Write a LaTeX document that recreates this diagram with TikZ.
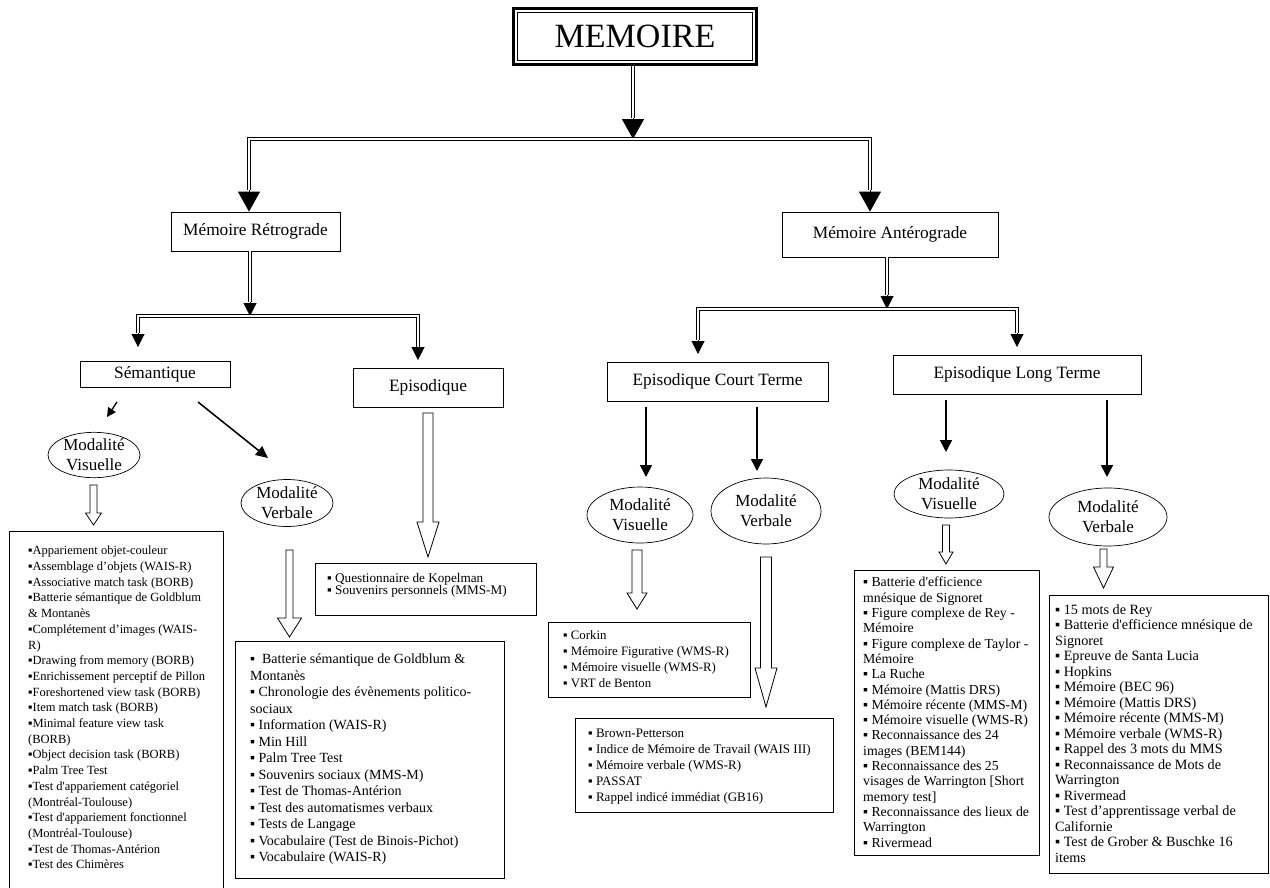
\documentclass[tikz,border=0pt]{standalone}
\usepackage{fontspec}
\setmainfont{Liberation Serif}
\usetikzlibrary{arrows.meta,shapes.geometric,calc}
\newcommand\myblockarrow[6]{\draw[line width=0.8pt,fill=white] ({#1-#5},#2) -- ({#1+#5},#2) -- ({#1+#5},#3) -- ({#1+#6},#3) -- (#1,#4) -- ({#1-#6},#3) -- ({#1-#5},#3) -- cycle;}
\begin{document}
\begin{tikzpicture}[x=1pt,y=-1pt,
  titlebox/.style={draw, line width=0.8pt, inner sep=0pt, font=\fontsize{17.3}{20}\selectfont},
  ell/.style={draw, ellipse, line width=0.7pt, inner sep=0pt, align=center, font=\fontsize{17}{20}\selectfont},
  listbox/.style={draw, line width=0.8pt, inner sep=0pt, anchor=north west},
  lst/.style={anchor=north west, inner sep=0pt, align=left},
  dbl/.style={double, double distance=1.8pt, line width=1.1pt},
  dbls/.style={double, double distance=1.4pt, line width=0.9pt},
  bighead/.style={-{Triangle[length=20pt,width=22pt]}, line width=1pt},
  smhead/.style={-{Triangle[length=13pt,width=13pt]}, line width=1pt},
  sarr/.style={-{Triangle[length=12pt,width=12pt]}, line width=1.5pt}
]
\useasboundingbox[fill=white] (0,0) rectangle (1270,887);

% ---- title
\node[draw, line width=2.5pt, minimum width=243, minimum height=56, inner sep=0pt,
      font=\fontsize{34}{40}\selectfont] (mem) at (635,36.5) {MEMOIRE};
\draw[line width=0.8pt] ([shift={(5,5)}]mem.north west) rectangle ([shift={(-5,-5)}]mem.south east);

% ---- level boxes
\node[titlebox, minimum width=169, minimum height=39] (retro) at (255.5,231.5) {Mémoire Rétrograde};
\node[titlebox, minimum width=216, minimum height=45] (ante) at (890,234.5) {Mémoire Antérograde};
\node[titlebox, minimum width=150, minimum height=26] (sem) at (155,374) {Sémantique};
\node[titlebox, minimum width=150, minimum height=39] (epi) at (428,387.5) {Episodique};
\node[titlebox, minimum width=221, minimum height=39] (ct) at (717.5,381.5) {Episodique Court Terme};
\node[titlebox, minimum width=248, minimum height=39] (lt) at (1017,374.5) {Episodique Long Terme};

% ---- ellipses
\node[ell, minimum width=92, minimum height=45] (semvis) at (94,455) {Modalité\\Visuelle};
\node[ell, minimum width=92, minimum height=47] (semverb) at (287,503) {Modalité\\Verbale};
\node[ell, minimum width=106, minimum height=56] (ctvis) at (640,515) {Modalité\\Visuelle};
\node[ell, minimum width=110, minimum height=66] (ctverb) at (766,511) {Modalité\\Verbale};
\node[ell, minimum width=110, minimum height=48] (ltvis) at (949,494) {Modalité\\Visuelle};
\node[ell, minimum width=118, minimum height=58] (ltverb) at (1108,517) {Modalité\\Verbale};

% ---- connectors: top level
\coordinate (c0) at (633,118);
\coordinate (hL) at (249,139);
\coordinate (hR) at (870,139);
\coordinate (tL) at (249,190);
\coordinate (tR) at (870,190);
\draw[dbl] (c0 |- mem.south) -- (c0);
\draw[bighead] (c0) -- (c0 |- hL);
\draw[dbl] (tL) -- (hL) -- (hR) -- (tR);
\draw[bighead] (tL) -- (tL |- retro.north);
\draw[bighead] (tR) -- (tR |- ante.north);

% ---- Retrograde branch
\coordinate (r1) at (250,302);
\coordinate (sL) at (138,316);
\coordinate (sR) at (418,316);
\coordinate (sLb) at (138,333);
\coordinate (sRb) at (418,347);
\coordinate (sLt) at (138,347);
\coordinate (sRt) at (418,360);
\draw[dbls] (r1 |- retro.south) -- (r1);
\draw[smhead] (r1) -- (r1 |- sL);
\draw[dbls] (sLb) -- (sL) -- (sR) -- (sRb);
\draw[smhead] (sLb) -- (sLt);
\draw[smhead] (sRb) -- (sRt);

% ---- Anterograde branch
\coordinate (a1) at (887,295);
\coordinate (aL) at (698,309);
\coordinate (aR) at (1017,309);
\coordinate (aLb) at (698,340);
\coordinate (aLt) at (698,354);
\coordinate (aRb) at (1017,333);
\coordinate (aRt) at (1017,347);
\draw[dbls] (a1 |- ante.south) -- (a1);
\draw[smhead] (a1) -- (a1 |- aL);
\draw[dbls] (aLb) -- (aL) -- (aR) -- (aRb);
\draw[smhead] (aLb) -- (aLt);
\draw[smhead] (aRb) -- (aRt);

% ---- single arrows
\coordinate (p1) at (117,402); \coordinate (p1e) at (107,417);
\coordinate (p2) at (198,402); \coordinate (p2e) at (268,458);
\draw[-{Triangle[length=9pt,width=9pt]}, line width=1.3pt] (p1) -- (p1e);
\draw[-{Triangle[length=12pt,width=11pt]}, line width=1.5pt] (p2) -- (p2e);
\coordinate (q1) at (646,407); \coordinate (q1e) at (646,477);
\coordinate (q2) at (757,407); \coordinate (q2e) at (757,471);
\coordinate (q3) at (946,400); \coordinate (q3e) at (946,452);
\coordinate (q4) at (1107,400); \coordinate (q4e) at (1107,477);
\draw[sarr] (q1) -- (q1e);
\draw[sarr] (q2) -- (q2e);
\draw[sarr] (q3) -- (q3e);
\draw[sarr] (q4) -- (q4e);

% ---- hollow block arrows
\myblockarrow{93.5}{485}{513}{525}{3.5}{8}
\myblockarrow{289.5}{550}{618}{637}{3.5}{12}
\myblockarrow{428}{413}{522}{557}{5}{11}
\myblockarrow{637}{550}{593}{609}{5}{10}
\myblockarrow{766}{557}{668}{707}{5.5}{11}
\myblockarrow{946}{525}{552}{564}{3.5}{7}
\myblockarrow{1103.5}{549}{567}{588}{3.5}{10}

% ---- list boxes
\node[listbox, minimum width=214, minimum height=400] (lbox) at (9,531) {};
\node[listbox, minimum width=269, minimum height=237] (svbox) at (235,641) {};
\node[listbox, minimum width=221, minimum height=52] (kopbox) at (315,563) {};
\node[listbox, minimum width=202, minimum height=75] (corbox) at (548,622) {};
\node[listbox, minimum width=258, minimum height=94] (brbox) at (575,718) {};
\node[listbox, minimum width=185, minimum height=285] (ltvbox) at (854,570) {};
\node[listbox, minimum width=219, minimum height=278] (ltwbox) at (1049,595) {};

\node[lst, font=\fontsize{12.5}{15.7}\selectfont] (ltext) at (28,546) {%
▪Appariement objet-couleur\\
▪Assemblage d’objets (WAIS-R)\\
▪Associative match task (BORB)\\
▪Batterie sémantique de Goldblum\\
\& Montanès\\
▪Complétement d’images (WAIS-\\
R)\\
▪Drawing from memory (BORB)\\
▪Enrichissement perceptif de Pillon\\
▪Foreshortened view task (BORB)\\
▪Item match task (BORB)\\
▪Minimal feature view task\\
(BORB)\\
▪Object decision task (BORB)\\
▪Palm Tree Test\\
▪Test d\textquotesingle appariement catégoriel\\
(Montréal-Toulouse)\\
▪Test d\textquotesingle appariement fonctionnel\\
(Montréal-Toulouse)\\
▪Test de Thomas-Antérion\\
▪Test des Chimères};

\node[lst, font=\fontsize{14}{16.5}\selectfont] (svtext) at (250,654) {%
▪\ \ Batterie sémantique de Goldblum \&\\
Montanès\\
▪ Chronologie des évènements politico-\\
sociaux\\
▪ Information (WAIS-R)\\
▪ Min Hill\\
▪ Palm Tree Test\\
▪ Souvenirs sociaux (MMS-M)\\
▪ Test de Thomas-Antérion\\
▪ Test des automatismes verbaux\\
▪ Tests de Langage\\
▪ Vocabulaire (Test de Binois-Pichot)\\
▪ Vocabulaire (WAIS-R)};

\node[lst, font=\fontsize{13.2}{12.5}\selectfont] (koptext) at (327,573) {%
▪ Questionnaire de Kopelman\\
▪ Souvenirs personnels (MMS-M)};

\node[lst, font=\fontsize{12.8}{16}\selectfont] (cortext) at (563,630) {%
▪ Corkin\\
▪ Mémoire Figurative (WMS-R)\\
▪ Mémoire visuelle (WMS-R)\\
▪ VRT de Benton};

\node[lst, font=\fontsize{13}{16}\selectfont] (brtext) at (588,729) {%
▪ Brown-Petterson\\
▪ Indice de Mémoire de Travail (WAIS III)\\
▪ Mémoire verbale (WMS-R)\\
▪ PASSAT\\
▪ Rappel indicé immédiat (GB16)};

\node[lst, font=\fontsize{13.8}{15.3}\selectfont] (ltvtext) at (863,577) {%
▪ Batterie d\textquotesingle efficience\\
mnésique de Signoret\\
▪ Figure complexe de Rey -\\
Mémoire\\
▪ Figure complexe de Taylor -\\
Mémoire\\
▪ La Ruche\\
▪ Mémoire (Mattis DRS)\\
▪ Mémoire récente (MMS-M)\\
▪ Mémoire visuelle (WMS-R)\\
▪ Reconnaissance des 24\\
images (BEM144)\\
▪ Reconnaissance des 25\\
visages de Warrington [Short\\
memory test]\\
▪ Reconnaissance des lieux de\\
Warrington\\
▪ Rivermead};

\node[lst, font=\fontsize{14.2}{15.5}\selectfont] (ltwtext) at (1055,604) {%
▪ 15 mots de Rey\\
▪ Batterie d\textquotesingle efficience mnésique de\\
Signoret\\
▪ Epreuve de Santa Lucia\\
▪ Hopkins\\
▪ Mémoire (BEC 96)\\
▪ Mémoire (Mattis DRS)\\
▪ Mémoire récente (MMS-M)\\
▪ Mémoire verbale (WMS-R)\\
▪ Rappel des 3 mots du MMS\\
▪ Reconnaissance de Mots de\\
Warrington\\
▪ Rivermead\\
▪ Test d’apprentissage verbal de\\
Californie\\
▪ Test de Grober \& Buschke 16\\
items};

\end{tikzpicture}
\end{document}
